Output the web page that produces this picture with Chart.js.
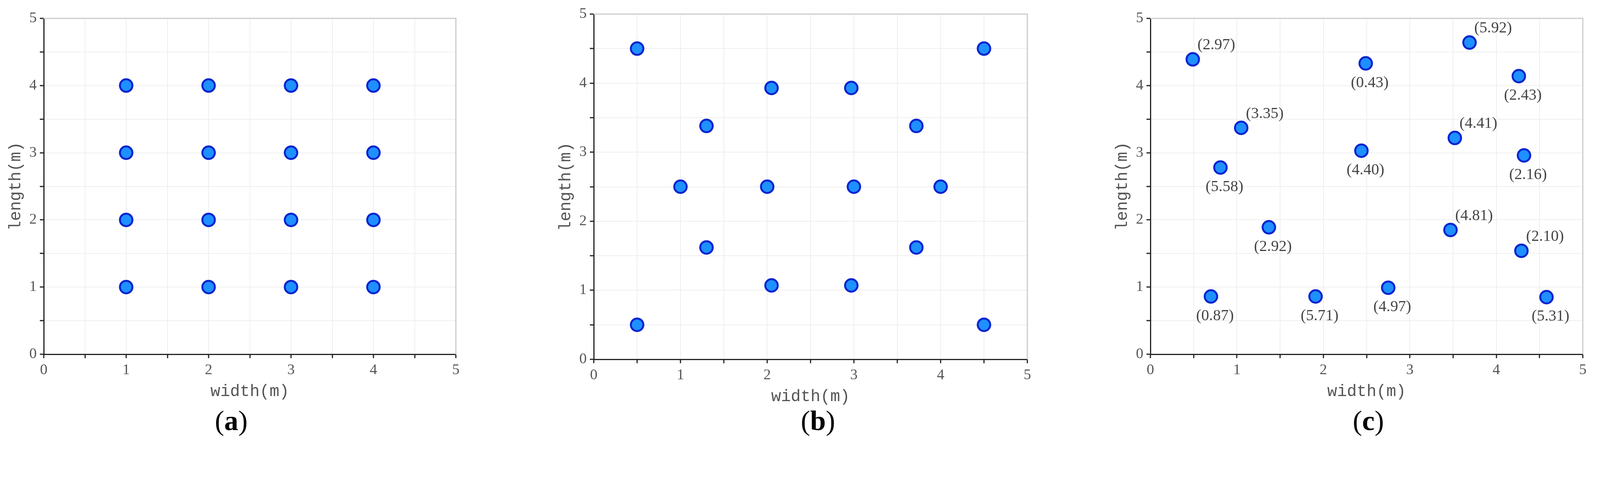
<!DOCTYPE html>
<html>
<head>
<meta charset="utf-8">
<script src="https://cdn.jsdelivr.net/npm/chart.js@4.4.0/dist/chart.umd.min.js"></script>
<style>
  body { margin: 0; background: #fff; width: 4164px; height: 1243px; position: relative; overflow: hidden; }
  .panel { position: absolute; top: 0; width: 1388px; height: 1243px; }
  .panel canvas { position: absolute; left: 0; top: 0; }
  .cap { position: absolute; top: 1035px; font-family: "Liberation Serif", serif; font-size: 72px; color: #000; }
  .cap b { font-weight: bold; }
</style>
</head>
<body>
<div class="panel" style="left:0px"><canvas id="ca" width="1388" height="1243"></canvas><div class="cap" style="left:550px">(<b>a</b>)</div></div>
<div class="panel" style="left:1388px"><canvas id="cb" width="1388" height="1243"></canvas><div class="cap" style="left:662px">(<b>b</b>)</div></div>
<div class="panel" style="left:2776px"><canvas id="cc" width="1388" height="1243"></canvas><div class="cap" style="left:687px">(<b>c</b>)</div></div>
<script>
// panel (a) regular grid
var aX = [1,2,3,4, 1,2,3,4, 1,2,3,4, 1,2,3,4];
var aY = [4,4,4,4, 3,3,3,3, 2,2,2,2, 1,1,1,1];

// panel (b) symmetric layout
var bX = [0.5, 4.5, 2.05, 2.97, 1.3, 3.72, 1, 2, 3, 4, 1.3, 3.72, 2.05, 2.97, 0.5, 4.5];
var bY = [4.5, 4.5, 3.93, 3.93, 3.38, 3.38, 2.5, 2.5, 2.5, 2.5, 1.62, 1.62, 1.07, 1.07, 0.5, 0.5];

// panel (c) random layout with labels
var cX = [0.49, 2.49, 3.69, 4.26, 1.05, 3.52, 2.44, 4.32, 0.81, 1.37, 3.47, 4.29, 0.70, 1.91, 2.75, 4.58];
var cY = [4.39, 4.33, 4.64, 4.14, 3.37, 3.22, 3.03, 2.96, 2.78, 1.89, 1.85, 1.54, 0.86, 0.86, 0.99, 0.85];
var cLabels = ["(2.97)","(0.43)","(5.92)","(2.43)","(3.35)","(4.41)","(4.40)","(2.16)",
               "(5.58)","(2.92)","(4.81)","(2.10)","(0.87)","(5.71)","(4.97)","(5.31)"];
var cAbove = [true,false,true,false,true,true,false,false,false,false,true,true,false,false,false,false];

var tickLabels = ["0","1","2","3","4","5"];
var tickFont = { family: "Liberation Serif", size: 38 };

function pts(xs, ys) {
  var out = [];
  for (var i = 0; i < xs.length; i++) out.push({ x: xs[i], y: ys[i] });
  return out;
}

function axis(title, isY) {
  return {
    type: "linear", min: 0, max: 5,
    border: { display: true, color: "#222", width: 3 },
    grid: { color: "#efefef", lineWidth: 2, tickColor: "#222", tickLength: 10, tickWidth: 3 },
    ticks: {
      stepSize: 0.5, color: "#555", font: tickFont, padding: 8, autoSkip: false, maxRotation: 0,
      callback: function(v) { return Number.isInteger(v) ? tickLabels[v] : ""; }
    },
    title: { display: true, text: title, color: "#555", padding: 4,
             font: { family: "Liberation Mono", size: 42 } },
    afterFit: function(s) { if (isY) s.width = 100; else s.height = 125; }
  };
}

var frame = {
  id: "frame",
  afterDraw: function(chart) {
    var a = chart.chartArea, ctx = chart.ctx;
    ctx.save();
    ctx.strokeStyle = "#cccccc";
    ctx.lineWidth = 3;
    ctx.beginPath();
    ctx.moveTo(a.left, a.top); ctx.lineTo(a.right, a.top); ctx.lineTo(a.right, a.bottom);
    ctx.stroke();
    // value labels for panel c
    var lbl = chart.options.plugins.pointLabels;
    if (lbl && lbl.texts) {
      var meta = chart.getDatasetMeta(0);
      ctx.fillStyle = "#444";
      ctx.font = "40px 'Liberation Serif'";
      ctx.textBaseline = "middle";
      ctx.textAlign = "left";
      meta.data.forEach(function(p, i) {
        if (lbl.above[i]) ctx.fillText(lbl.texts[i], p.x + 12, p.y - 36);
        else ctx.fillText(lbl.texts[i], p.x - 38, p.y + 50);
      });
    }
    ctx.restore();
  }
};

function make(id, data, pad, extra) {
  return new Chart(document.getElementById(id), {
    type: "scatter",
    data: { datasets: [{
      data: data,
      pointRadius: 16, pointBackgroundColor: "#1e90ff", pointBorderColor: "#0a24d0", pointBorderWidth: 5
    }] },
    options: {
      responsive: false, animation: false,
      layout: { padding: pad },
      plugins: { legend: { display: false }, tooltip: { enabled: false }, pointLabels: extra || {} },
      scales: { x: axis("width(m)", false), y: axis("length(m)", true) }
    },
    plugins: [frame]
  });
}

make("ca", pts(aX, aY), { left: 12, right: 221, top: 47, bottom: 212 });
make("cb", pts(bX, bY), { left: 32, right: 146, top: 36, bottom: 199 });
make("cc", pts(cX, cY), { left: 69, right: 112, top: 47, bottom: 212 }, { texts: cLabels, above: cAbove });
</script>
</body>
</html>
